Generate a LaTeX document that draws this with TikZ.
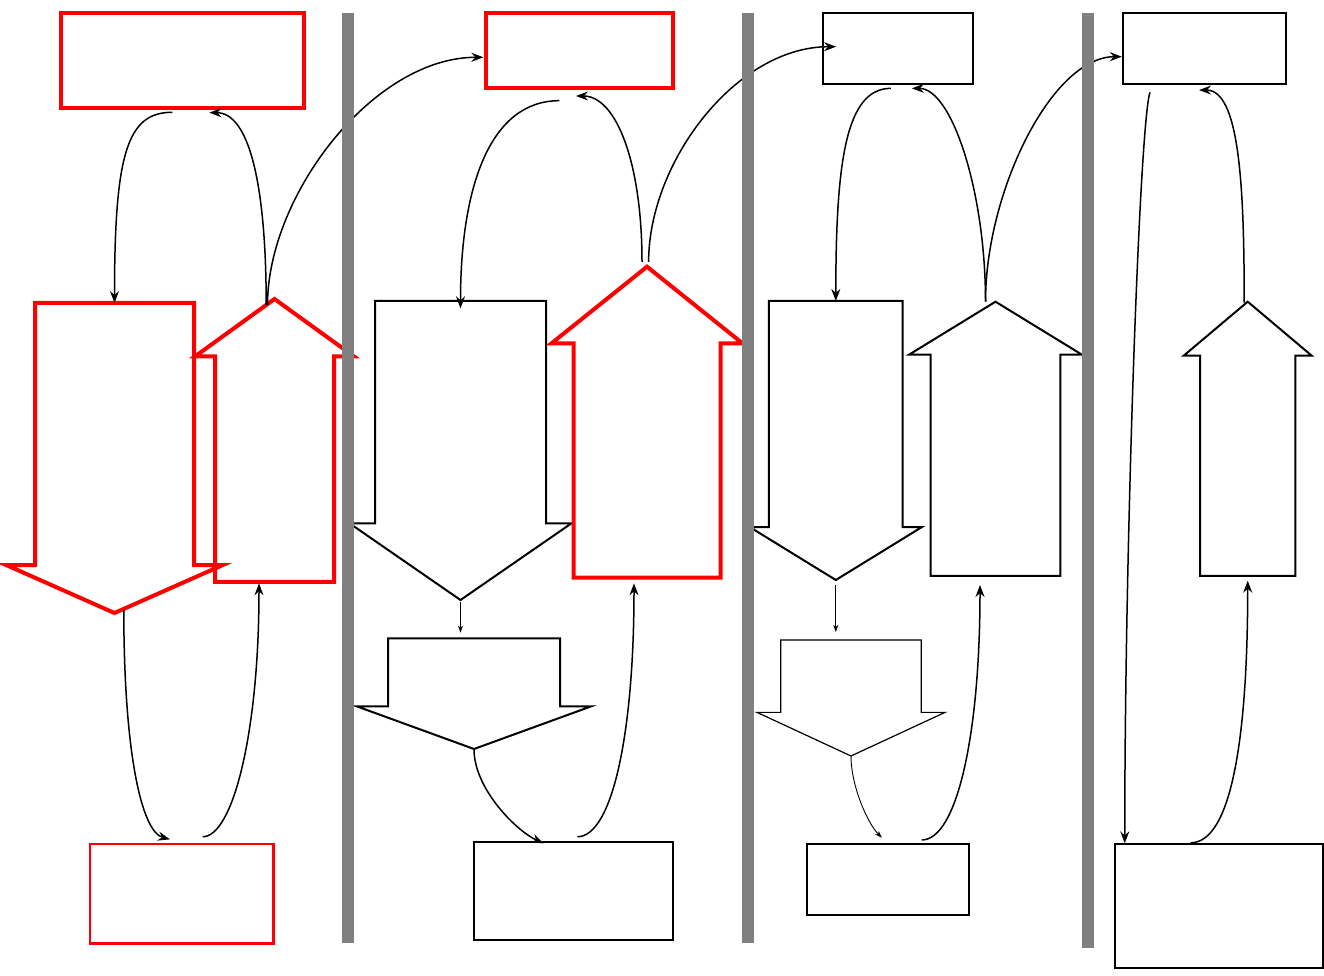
\documentclass[tikz,border=0pt]{standalone}
\usetikzlibrary{shapes.arrows,arrows.meta}

\tikzset{
  box/.style={draw, rectangle, inner sep=0pt, outer sep=0pt, line width=2pt},
  redbox/.style={box, draw=red, line width=4pt},
  fat/.style={single arrow, draw, line width=2pt, inner xsep=0pt, outer sep=0pt},
  redfat/.style={fat, draw=red, line width=4pt},
  dims/.style n args={4}{inner ysep=#1/2, single arrow head extend=(#2-#1)/2, minimum width=#2, minimum height=#3, single arrow tip angle=#4},
  pointdown/.style={rotate=-90, anchor=tail},
  pointup/.style={rotate=90, anchor=tail},
  link/.style={draw, line width=1.5pt, -{Stealth[length=12pt,width=9pt,inset=4pt]}},
  thinlink/.style={draw, line width=0.9pt, -{Stealth[length=7pt,width=5pt,inset=2pt]}},
  lane/.style={draw=gray, line width=11.5pt},
}

\begin{document}
\begin{tikzpicture}[x=1pt,y=1pt]
\useasboundingbox (0,0) rectangle (1324,975);

\node[redbox, minimum width=243.3, minimum height=95] (a1) at (182.7,914.2) {};
\node[redbox, minimum width=187.3, minimum height=74.4] (a2) at (579.7,924.5) {};
\node[box, minimum width=150.3, minimum height=71.3] (a3) at (897.9,926.6) {};
\node[box, minimum width=163.4, minimum height=71.3] (a4) at (1204.5,926.6) {};

\node[box, draw=red, line width=2.5pt, minimum width=183.3, minimum height=99.3] (b1) at (181.7,81.3) {};
\node[box, minimum width=199.3, minimum height=98.3] (b2) at (573.4,83.8) {};
\node[box, minimum width=162.5, minimum height=70.7] (b3) at (887.8,95.7) {};
\node[box, minimum width=207.5, minimum height=124.3] (b4) at (1219.2,68.8) {};

\node[redfat, pointdown, dims={155}{212}{310}{132.2}] (down1) at (114.5,672) {};
\node[redfat, pointup, dims={115}{155}{283}{108.3}] (up1) at (274.5,393) {};
\node[fat, pointdown, dims={169}{220}{299}{110.7}] (down2) at (460.5,674) {};
\node[redfat, pointup, dims={143}{187}{311}{102.5}] (up2) at (647,397.3) {};
\node[fat, pointdown, dims={170}{232.4}{110.7}{140}] (split2) at (474,336.7) {};
\node[fat, pointdown, dims={131.7}{170}{279}{116.8}] (down3) at (835.8,674) {};
\node[fat, pointdown, line width=1.2pt, dims={139.3}{186.7}{116}{130.2}] (split3) at (851,335) {};
\node[fat, pointup, dims={127.6}{170.7}{274.3}{117}] (up3) at (995.5,399) {};
\node[fat, pointup, dims={93.3}{125.7}{274.3}{99.7}] (up4) at (1247.7,399) {};

\path[link] ([xshift=-10.4pt,yshift=-4pt]a1.south) to[out=180,in=90,out distance=45,in distance=150] (down1.tail);
\path[link] ([xshift=-8.3pt,yshift=-6pt]up1.tip) to[out=90,in=0,out distance=120,in distance=40] ([xshift=26.6pt,yshift=-4.4pt]a1.south);
\path[link] ([xshift=-7pt,yshift=-6pt]up1.tip) to[out=90,in=180,out distance=110,in distance=110] ([xshift=-2.7pt,yshift=-6.8pt]a2.west);
\path[link] ([xshift=9.3pt,yshift=3pt]down1.tip) to[out=-90,in=165,out distance=140,in distance=30] ([xshift=-11.7pt,yshift=4.7pt]b1.north);
\path[link] ([xshift=21pt,yshift=7.3pt]b1.north) to[out=0,in=270,out distance=30,in distance=150] ([xshift=-15.5pt,yshift=-1.3pt]up1.tail);

\path[link] ([xshift=-20.4pt,yshift=-13pt]a2.south) to[out=180,in=90,out distance=70,in distance=120] ([yshift=-7.3pt]down2.tail);
\path[link] ([xshift=-5pt,yshift=4.7pt]up2.tip) to[out=90,in=0,out distance=100,in distance=40] ([xshift=-3.7pt,yshift=-8.3pt]a2.south);
\path[link] ([xshift=1.6pt,yshift=4.7pt]up2.tip) to[out=90,in=180,out distance=100,in distance=100] ([xshift=13.3pt,yshift=1.7pt]a3.west);
\path[thinlink, shorten <=2pt, shorten >=5.6pt] (down2.tip) -- (down2.tip |- split2.tail);
\path[link] (split2.tip) to[out=-90,in=155,out distance=40,in distance=30] ([xshift=-30pt,yshift=-1.3pt]b2.north);
\path[link] ([xshift=3.9pt,yshift=5.3pt]b2.north) to[out=0,in=270,out distance=35,in distance=150] ([xshift=-13pt,yshift=-5.6pt]up2.tail);

\path[link] ([xshift=-7pt,yshift=-4.3pt]a3.south) to[out=180,in=90,out distance=45,in distance=140] (down3.tail);
\path[link] ([xshift=-10pt]up3.tip) to[out=90,in=0,out distance=110,in distance=40] ([xshift=14pt,yshift=-4.3pt]a3.south);
\path[link] ([xshift=-10pt]up3.tip) to[out=90,in=180,out distance=110,in distance=70] ([xshift=-1pt,yshift=-8.3pt]a4.west);
\path[thinlink, shorten <=5pt, shorten >=8pt] (down3.tip) -- (down3.tip |- split3.tail);
\path[thinlink] (split3.tip) to[out=-90,in=135,out distance=30,in distance=20] ([xshift=-6pt,yshift=6.3pt]b3.north);
\path[link] ([xshift=34pt,yshift=4pt]b3.north) to[out=0,in=270,out distance=35,in distance=150] ([xshift=-15.5pt,yshift=-9pt]up3.tail);

\path[link] ([xshift=27.2pt,yshift=-8.3pt]a4.south west) to[out=250,in=90,out distance=30,in distance=300] ([xshift=9.3pt,yshift=0.7pt]b4.north west);
\path[link] ([xshift=-28.5pt,yshift=1.3pt]b4.north) to[out=0,in=270,out distance=40,in distance=160] ([yshift=-4.7pt]up4.tail);
\path[link] ([xshift=-3.5pt,yshift=-1pt]up4.tip) to[out=90,in=0,out distance=120,in distance=40] ([xshift=-5.5pt,yshift=-6pt]a4.south);

\draw[lane] (348,961.7) -- (348,31.7);
\draw[lane] (748,961.7) -- (748,31.7);
\draw[lane] (1087.8,962) -- (1087.8,26.7);
\end{tikzpicture}
\end{document}
